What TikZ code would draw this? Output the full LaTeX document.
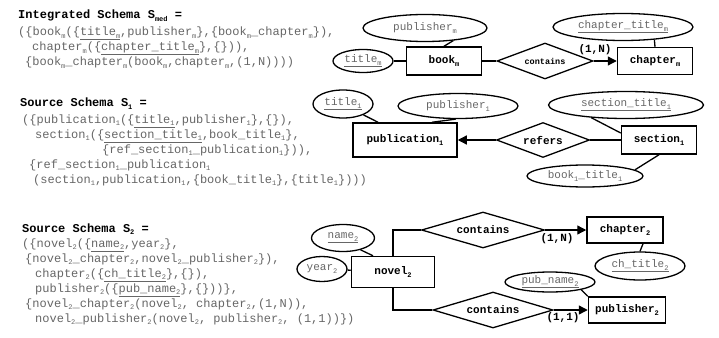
\documentclass[tikz,border=0pt]{standalone}
\usepackage{fontspec}
\setmonofont{Liberation Mono}
\usetikzlibrary{shapes.geometric, arrows, arrows.meta}
\definecolor{txtgray}{HTML}{666666}
\newcommand{\sub}[1]{\raisebox{-2.6pt}{\fontsize{7}{7}\selectfont#1}}
\newcommand{\codefont}{\ttfamily\fontsize{12}{14}\selectfont}
\tikzstyle{heading} = [anchor=base west, inner sep=0pt, text=black, font=\codefont\bfseries]
\tikzstyle{code} = [anchor=base west, inner sep=0pt, text=txtgray, font=\codefont]
\tikzstyle{entity} = [rectangle, draw=black, line width=1.5pt, inner sep=0pt, text centered, font=\ttfamily\bfseries\fontsize{11}{13}\selectfont]
\tikzstyle{attrib} = [ellipse, draw=black, line width=1.3pt, inner sep=0pt, text=txtgray, font=\ttfamily\fontsize{11}{13}\selectfont]
\tikzstyle{relation} = [diamond, aspect=2.8, draw=black, line width=1.3pt, inner sep=0pt, font=\ttfamily\bfseries\fontsize{11}{13}\selectfont]
\tikzstyle{card} = [inner sep=0pt, font=\ttfamily\bfseries\fontsize{11}{13}\selectfont]
\tikzstyle{link} = [line width=1.3pt]
\tikzstyle{arrow} = [line width=1.3pt, -{Triangle[length=9pt, width=9pt]}]

\begin{document}
\begin{tikzpicture}[x=1pt, y=-1pt]
		\useasboundingbox (0,0) rectangle (719,337);
		\node(hdmed) [heading] at (18,18.5) {Integrated Schema S\sub{med} =};
		\node(medA) [code] at (18,35.5) {(\{book\sub{m}(\{\underline{title\sub{m}},publisher\sub{m}\},\{book\sub{m}\_chapter\sub{m}\}),};
		\node(medB) [code] at (32,50.5) {chapter\sub{m}(\{\underline{chapter\_title\sub{m}}\},\{\})),};
		\node(medC) [code] at (25,65.5) {\{book\sub{m}\_chapter\sub{m}(book\sub{m},chapter\sub{m},(1,N))))};

		\node(hdone) [heading] at (20,106.5) {Source Schema S\sub{1} =};
		\node(oneA) [code] at (22,123) {(\{publication\sub{1}(\{\underline{title\sub{1}},publisher\sub{1}\},\{\}),};
		\node(oneB) [code] at (35,138) {section\sub{1}(\{\underline{section\_title\sub{1}},book\_title\sub{1}\},};
		\node(oneC) [code] at (102,153) {\{ref\_section\sub{1}\_publication\sub{1}\})),};
		\node(oneD) [code] at (29,168) {\{ref\_section\sub{1}\_publication\sub{1}};
		\node(oneE) [code] at (33,183) {(section\sub{1},publication\sub{1},\{book\_title\sub{1}\},\{title\sub{1}\})))};

		\node(hdtwo) [heading] at (22,232) {Source Schema S\sub{2} =};
		\node(twoA) [code] at (22,247) {(\{novel\sub{2}(\{\underline{name\sub{2}},year\sub{2}\},};
		\node(twoB) [code] at (25,262) {\{novel\sub{2}\_chapter\sub{2},novel\sub{2}\_publisher\sub{2}\}),};
		\node(twoC) [code] at (35,277) {chapter\sub{2}(\{\underline{ch\_title\sub{2}}\},\{\}),};
		\node(twoD) [code] at (35,292) {publisher\sub{2}(\{\underline{pub\_name\sub{2}}\},\{\}))\},};
		\node(twoE) [code] at (25,307) {\{novel\sub{2}\_chapter\sub{2}(novel\sub{2}, chapter\sub{2},(1,N)),};
		\node(twoF) [code] at (35,322) {novel\sub{2}\_publisher\sub{2}(novel\sub{2}, publisher\sub{2}, (1,1))\})};

		\node(bookm) [entity, minimum width=75pt, minimum height=28pt] at (444,61) {book\sub{m}};
		\node(titlem) [attrib, minimum width=60pt, minimum height=23pt] at (363,61) {\underline{title\sub{m}}};
		\node(pubm) [attrib, minimum width=124pt, minimum height=27pt] at (425,28) {publisher\sub{m}};
		\node(contm) [relation, minimum width=96pt, minimum height=36pt, font=\ttfamily\bfseries\fontsize{8.5}{10}\selectfont] at (545,61) {contains};
		\node(chapm) [entity, minimum width=75pt, minimum height=27pt] at (655,61) {chapter\sub{m}};
		\node(chaptitm) [attrib, minimum width=140pt, minimum height=27pt] at (623,27) {\underline{chapter\_title\sub{m}}};
		\node(cardm) [card] at (595,50) {(1,N)};
		\draw [link] (titlem.east) -- (bookm.west);
		\draw [link] (pubm.-24) -- (bookm.north);
		\draw [link] (bookm.east) -- (contm.west);
		\draw [arrow] (contm.east) -- (chapm.west);
		\draw [link] (chaptitm.-22) -- (chapm.north);

		\node(pub1) [entity, minimum width=104pt, minimum height=34pt] at (405,140) {publication\sub{1}};
		\node(tit1) [attrib, minimum width=60pt, minimum height=28pt] at (343,104) {\underline{title\sub{1}}};
		\node(pubr1) [attrib, minimum width=120pt, minimum height=25pt] at (458,106) {publisher\sub{1}};
		\node(ref1) [relation, minimum width=93pt, minimum height=35pt] at (543,140) {refers};
		\node(sec1) [entity, minimum width=75pt, minimum height=28pt] at (659,140) {section\sub{1}};
		\node(sectit1) [attrib, minimum width=155pt, minimum height=27pt] at (626,105) {\underline{section\_title\sub{1}}};
		\node(bt1) [attrib, minimum width=116pt, minimum height=22pt] at (585,176) {book\sub{1}\_title\sub{1}};
		\draw [link] (tit1.-28) -- ([xshift=-27pt]pub1.north);
		\draw [link] (pubr1.-100) -- ([xshift=27pt]pub1.north);
		\draw [arrow] (ref1.west) -- (pub1.east);
		\draw [link] (ref1.east) -- (sec1.west);
		\draw [link] (sectit1.-160) -- ([yshift=7pt]sec1.west);
		\draw [link] (bt1.7) -- (sec1.south);

		\node(novel2) [entity, minimum width=83pt, minimum height=31pt] at (393,272) {novel\sub{2}};
		\node(name2) [attrib, minimum width=63pt, minimum height=27pt] at (343,238) {\underline{name\sub{2}}};
		\node(year2) [attrib, minimum width=50pt, minimum height=25pt] at (322,269) {year\sub{2}};
		\node(cont2a) [relation, minimum width=123pt, minimum height=36pt] at (483,230) {contains};
		\node(chap2) [entity, minimum width=76pt, minimum height=26pt] at (625,230) {chapter\sub{2}};
		\node(chtit2) [attrib, minimum width=90pt, minimum height=28pt] at (640,266) {\underline{ch\_title\sub{2}}};
		\node(cont2b) [relation, minimum width=120pt, minimum height=36pt] at (493,310) {contains};
		\node(pubr2) [entity, minimum width=77pt, minimum height=26pt] at (627,310) {publisher\sub{2}};
		\node(pubn2) [attrib, minimum width=90pt, minimum height=20pt] at (550,282) {\underline{pub\_name\sub{2}}};
		\node(card2a) [card] at (557,239) {(1,N)};
		\node(card2b) [card] at (563,318) {(1,1)};
		\draw [link] (name2.-34) -- ([xshift=-20pt]novel2.north);
		\draw [link] (year2) -- (novel2);
		\draw [link] (novel2.north) |- (cont2a.west);
		\draw [arrow] (cont2a.east) -- (chap2.west);
		\draw [link] (chtit2.north) -- ([xshift=18pt]chap2.south);
		\draw [link] (novel2.south) |- (cont2b.west);
		\draw [arrow] (cont2b.east) -- (pubr2.west);
		\draw [link] (pubn2.-14) -- (pubr2.north west);
	\end{tikzpicture}
\end{document}
